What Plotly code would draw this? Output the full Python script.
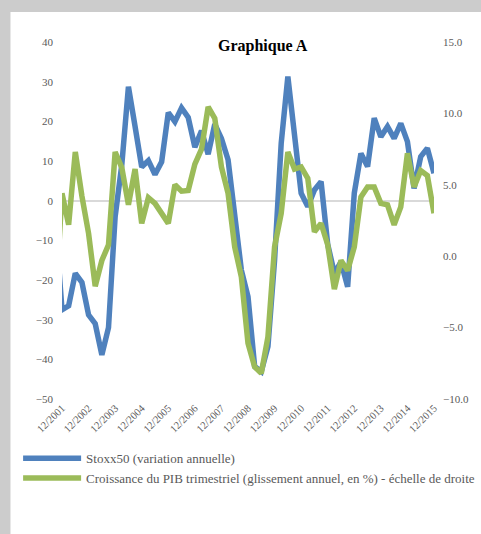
import plotly.graph_objects as go

# Quarter labels (first one, 09/2001, lies just left of the visible range)
years = list(range(2001, 2016))
quarters = ["09/2001"] + [f"{m}/{y}" for y in years for m in ("03", "06", "09", "12")][3:]
tick_labels = [f"12/{y}" for y in years]

stoxx50 = [-5.0,
           -27.5, -26.5, -18.3, -20.6, -28.8, -31.0, -38.9, -32.0,
           -4.0, 9.0, 28.7, 18.7, 8.5, 10.1, 6.6, 9.8,
           22.2, 19.9, 23.4, 21.0, 13.5, 17.6, 11.7, 19.3,
           15.7, 10.3, -4.9, -17.5, -24.2, -41.8, -43.1, -36.8,
           -15.0, 14.5, 31.3, 16.1, 1.9, -1.5, 2.7, 4.8,
           -11.0, -18.3, -15.4, -21.7, 1.9, 11.9, 8.6, 20.8,
           16.1, 18.7, 15.7, 19.5, 14.9, 3.1, 11.1, 13.2, 6.9]

pib = [-3.5,
       4.4, 2.2, 7.3, 4.2, 1.6, -2.1, -0.3, 0.8,
       7.3, 6.2, 3.6, 6.1, 2.3, 4.1, 3.7, 3.0,
       2.3, 5.0, 4.55, 4.6, 6.45, 7.5, 10.45, 9.65,
       6.25, 4.4, 0.65, -1.45, -6.1, -7.75, -8.2, -5.65,
       0.65, 3.0, 7.3, 6.1, 6.25, 5.45, 1.7, 2.3,
       0.8, -2.3, -0.3, -1.0, 0.65, 4.15, 4.85, 4.85,
       3.7, 3.6, 2.2, 3.45, 7.2, 4.85, 6.0, 5.65, 3.0]

font_family = "Liberation Serif"
grey_text = "#595959"
tick_font = dict(size=11, color=grey_text, family=font_family)

fig = go.Figure()
fig.add_trace(go.Scatter(
    x=quarters, y=stoxx50, mode="lines", name="Stoxx50 (variation annuelle)",
    line=dict(color="#4f81bd", width=5.5), yaxis="y"))
fig.add_trace(go.Scatter(
    x=quarters, y=pib, mode="lines",
    name="Croissance du PIB trimestriel (glissement annuel, en %) - échelle de droite",
    line=dict(color="#9bbb59", width=5.5), yaxis="y2"))

fig.update_layout(
    width=481, height=534,
    margin=dict(l=62, r=43.5, t=42, b=135),
    paper_bgcolor="#cccccc", plot_bgcolor="white",
    font=dict(family=font_family, color=grey_text, size=11),
    showlegend=True,
    legend=dict(x=-0.118, y=-0.124, xanchor="left", yanchor="top",
                font=dict(size=13, color=grey_text, family=font_family),
                bgcolor="rgba(0,0,0,0)", itemwidth=58, tracegroupgap=0),
    xaxis=dict(type="category", range=[1, 57], tickmode="array",
               tickvals=tick_labels, ticktext=tick_labels, tickangle=-45,
               showgrid=False, showline=False, zeroline=False,
               tickfont=dict(size=10.5, color=grey_text, family=font_family)),
    yaxis=dict(range=[-50, 40], dtick=10, showgrid=False, showline=False,
               zeroline=True, zerolinecolor="#d9d9d9", zerolinewidth=2,
               ticklabelstandoff=8, tickfont=tick_font),
    yaxis2=dict(range=[-10, 15], dtick=5, tickformat=".1f", overlaying="y",
                side="right", showgrid=False, showline=False, zeroline=False,
                ticklabelstandoff=8, tickfont=tick_font),
    shapes=[dict(type="rect", xref="paper", yref="paper",
                 x0=-0.1385, x1=1.2, y0=-0.5, y1=1.084,
                 fillcolor="white", line=dict(width=0), layer="below")],
    annotations=[dict(text="<b>Graphique A</b>", xref="paper", yref="paper",
                      x=0.5406, y=0.99, xanchor="center", yanchor="middle",
                      showarrow=False,
                      font=dict(size=16, color="black", family=font_family))],
)

fig.write_html("out.html",
               config={"displayModeBar": False},
               post_script="document.body.style.margin='0';"
                           "document.body.style.overflow='hidden';"
                           "document.documentElement.style.overflow='hidden';")
